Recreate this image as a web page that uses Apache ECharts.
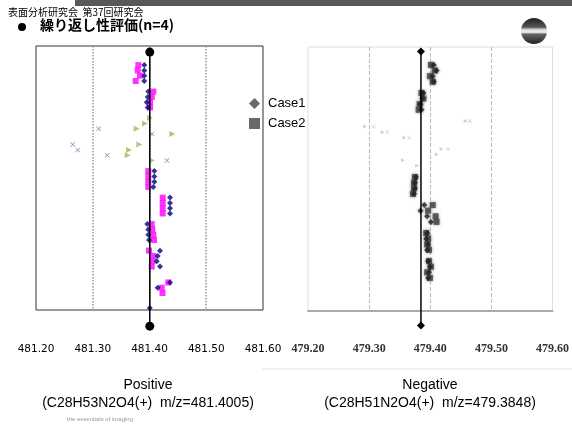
<!DOCTYPE html>
<html>
<head>
<meta charset="utf-8">
<script src="https://cdn.jsdelivr.net/npm/echarts@6/dist/echarts.min.js"></script>
<style>
  html, body { margin: 0; padding: 0; background: #fff; }
  #chart { width: 572px; height: 425px; }
</style>
</head>
<body>
<div id="chart"></div>
<script>
// ---- Positive (m/z 481.4005) ----
var posTicks = [481.20, 481.30, 481.40, 481.50, 481.60];
var posTheory = 481.4005;
var posLineRows = [-2.45, 49.25];

var posCase1Mz  = [481.3908, 481.3908, 481.3908, 481.3908,
                   481.3979, 481.3968, 481.3951, 481.3968,
                   481.4085, 481.4085, 481.4085, 481.4067,
                   481.4361, 481.4361, 481.4361, 481.4361,
                   481.3961, 481.3979, 481.3979, 481.3991,
                   481.4185, 481.4144, 481.4127, 481.4185,
                   481.4361, 481.4144, 481.4005];
var posCase1Row = [0, 1, 2, 3, 5, 6, 7, 8, 20, 21, 22, 23, 25, 26, 27, 28,
                   30, 31, 32, 33, 35, 36, 37, 38, 41, 42, 45.8];

var posCase2Mz  = [481.3803, 481.3792, 481.3833, 481.3757,
                   481.4067, 481.4039, 481.4009, 481.4009,
                   481.3979, 481.3979, 481.3979, 481.3979,
                   481.4233, 481.4233, 481.4233, 481.4233,
                   481.4039, 481.4049, 481.4067, 481.4079,
                   481.3991, 481.4067, 481.4049, 481.4039,
                   481.4331, 481.4215, 481.4229];
var posCase2Row = [0, 1, 2, 3, 5, 6, 7, 8, 20, 21, 22, 23, 25, 26, 27, 28,
                   30, 31, 32, 33, 35, 36, 37, 38, 41, 42, 43];

var posCase3Mz  = [481.4009, 481.3921, 481.3774, 481.4402, 481.3820, 481.3639, 481.3616, 481.4044];
var posCase3Row = [10, 11, 12, 13, 15, 16, 17, 18];

var posCase4Mz  = [481.3105, 481.4044, 481.2647, 481.2735, 481.3256, 481.4308];
var posCase4Row = [12, 13, 15, 16, 17, 18];

// ---- Negative (m/z 479.3848) ----
var negTicks = [479.20, 479.30, 479.40, 479.50, 479.60];
var negTheory = 479.3848;
var negLineRows = [-2.4, 46.5];

var negCase1Mz  = [479.4057, 479.4103, 479.4041, 479.4057,
                   479.3888, 479.3872, 479.3842, 479.3857,
                   479.3765, 479.3749, 479.3749, 479.3734,
                   479.3903, 479.3842, 479.3949, 479.4011,
                   479.3949, 479.3934, 479.3965, 479.3949,
                   479.3965, 479.3995, 479.3980, 479.3965];
var negCase1Row = [0, 1, 2, 3, 5, 6, 7, 8, 20, 21, 22, 23, 25, 26, 27, 28,
                   30, 31, 32, 33, 35, 36, 37, 38];

var negCase2Mz  = [479.4011, 479.4072, 479.3995, 479.4041,
                   479.3857, 479.3888, 479.3826, 479.3811,
                   479.3749, 479.3734, 479.3734, 479.3718,
                   479.4041, 479.3965, 479.4088, 479.4103,
                   479.3934, 479.3965, 479.3949, 479.3980,
                   479.3980, 479.4011, 479.3949, 479.3995];
var negCase2Row = [0, 1, 2, 3, 5, 6, 7, 8, 20, 21, 22, 23, 25, 26, 27, 28,
                   30, 31, 32, 33, 35, 36, 37, 38];

var negCase3Mz  = [479.4580, 479.2934, 479.3222, 479.3580, 479.4185, 479.4108, 479.3554, 479.3785];
var negCase3Row = [10, 11, 12, 13, 15, 16, 17, 18];

var negCase4Mz  = [479.4646, 479.3072, 479.3298, 479.3657, 479.4288];
var negCase4Row = [10, 11, 12, 13, 15];

function zip(xs, ys) {
    var out = [];
    for (var i = 0; i < xs.length; i++) out.push([xs[i], ys[i]]);
    return out;
}

var crossPath = 'path://M0,1L1,0L5,4L9,0L10,1L6,5L10,9L9,10L5,6L1,10L0,9L4,5Z';
var sans = '"Liberation Sans", Arial, sans-serif';
var cjk = '"Noto Sans CJK JP", sans-serif';

var chart = echarts.init(document.getElementById('chart'));

var option = {
    animation: false,
    backgroundColor: '#fff',
    grid: [
        {left: 36, top: 46, width: 227, height: 264, show: true, borderColor: '#333', borderWidth: 1},
        {left: 308, top: 47, width: 259, height: 264, show: true, borderColor: '#ddd', borderWidth: 1}
    ],
    xAxis: [
        {
            gridIndex: 0, type: 'value',
            min: posTicks[0], max: posTicks[posTicks.length - 1], interval: 0.1,
            axisLine: {show: false, onZero: false}, axisTick: {show: false},
            axisLabel: {
                margin: 34, fontSize: 10.5, color: '#000', fontFamily: '"DejaVu Sans", sans-serif',
                formatter: function (v) { return v.toFixed(2); }
            },
            splitLine: {show: true, showMinLine: false, showMaxLine: false,
                lineStyle: {color: '#999', type: 'dotted', width: 1.5}}
        },
        {
            gridIndex: 1, type: 'value',
            min: negTicks[0], max: negTicks[negTicks.length - 1], interval: 0.1,
            axisLine: {show: true, onZero: false, lineStyle: {color: '#aaa', width: 2}}, axisTick: {show: false},
            axisLabel: {
                margin: 32, fontSize: 12, color: '#333', fontWeight: 'bold',
                fontFamily: '"Liberation Serif", serif',
                formatter: function (v) { return v.toFixed(2); }
            },
            splitLine: {show: true, showMinLine: false, showMaxLine: false,
                lineStyle: {color: '#bbb', type: 'dashed', width: 1}}
        }
    ],
    yAxis: [
        {gridIndex: 0, type: 'value', min: -3.6, max: 46.2, inverse: true, show: false},
        {gridIndex: 1, type: 'value', min: -3.2, max: 43.9, inverse: true, show: false}
    ],
    legend: {
        orient: 'vertical', left: 244, top: 92, itemGap: 7, itemWidth: 11, itemHeight: 11,
        textStyle: {fontSize: 13, color: '#000', fontFamily: sans, padding: [0, 0, 0, 3]},
        data: [
            {name: 'Case1', icon: 'diamond', itemStyle: {color: '#444'}},
            {name: 'Case2', icon: 'rect', itemStyle: {color: '#444'}}
        ]
    },
    graphic: [
        {type: 'rect', left: 75, top: 0, shape: {width: 497, height: 6}, style: {fill: '#595959'}},
        {type: 'text', left: 8, top: 7, style: {text: '表面分析研究会  第37回研究会', font: '10px ' + cjk, fill: '#000'}},
        {type: 'circle', shape: {cx: 22, cy: 27, r: 4}, style: {fill: '#000'}},
        {type: 'text', left: 40, top: 18, style: {text: '繰り返し性評価(n=4)', font: 'bold 14px ' + cjk, fill: '#000'}},
        {type: 'circle', shape: {cx: 534, cy: 31, r: 13},
            style: {fill: new echarts.graphic.LinearGradient(0, 0, 0, 1, [
                {offset: 0, color: '#1e1e1e'}, {offset: 0.35, color: '#555'},
                {offset: 0.45, color: '#ddd'}, {offset: 0.55, color: '#eee'},
                {offset: 0.62, color: '#666'}, {offset: 1, color: '#222'}
            ])}},
        {type: 'line', shape: {x1: 262, y1: 369, x2: 572, y2: 369}, style: {stroke: '#e6e6e6', lineWidth: 1}},
        {type: 'text', style: {text: 'Positive', x: 148, y: 385, align: 'center', verticalAlign: 'middle', font: '14px ' + sans, fill: '#000'}},
        {type: 'text', style: {text: '(C28H53N2O4(+)  m/z=481.4005)', x: 148, y: 403, align: 'center', verticalAlign: 'middle', font: '14px ' + sans, fill: '#000'}},
        {type: 'text', style: {text: 'the essentials of imaging', x: 100, y: 419, align: 'center', verticalAlign: 'middle', font: '6px ' + sans, fill: '#999'}},
        {type: 'text', style: {text: 'Negative', x: 430, y: 385, align: 'center', verticalAlign: 'middle', font: '14px ' + sans, fill: '#000'}},
        {type: 'text', style: {text: '(C28H51N2O4(+)  m/z=479.3848)', x: 430, y: 403, align: 'center', verticalAlign: 'middle', font: '14px ' + sans, fill: '#000'}}
    ],
    series: [
        {
            name: 'Case3', type: 'scatter', xAxisIndex: 0, yAxisIndex: 0,
            symbol: 'triangle', symbolRotate: -90, symbolSize: 6,
            itemStyle: {color: '#9bbb59'}, data: zip(posCase3Mz, posCase3Row)
        },
        {
            name: 'Case4', type: 'scatter', xAxisIndex: 0, yAxisIndex: 0,
            symbol: crossPath, symbolSize: 5,
            itemStyle: {color: '#8064a2'}, data: zip(posCase4Mz, posCase4Row)
        },
        {
            name: 'Case2', type: 'scatter', xAxisIndex: 0, yAxisIndex: 0,
            symbol: 'rect', symbolSize: [6, 6],
            itemStyle: {color: '#ff00ff'}, data: zip(posCase2Mz, posCase2Row)
        },
        {
            name: 'Case1', type: 'scatter', xAxisIndex: 0, yAxisIndex: 0,
            symbol: 'diamond', symbolSize: 6,
            itemStyle: {color: '#000080'}, data: zip(posCase1Mz, posCase1Row)
        },
        {
            name: 'posTheory', type: 'line', xAxisIndex: 0, yAxisIndex: 0, clip: false, z: 5,
            symbol: 'circle', symbolSize: 9, showAllSymbol: true,
            lineStyle: {color: '#000', width: 1.5}, itemStyle: {color: '#000'},
            data: [[posTheory, posLineRows[0]], [posTheory, posLineRows[1]]]
        },
        {
            name: 'negCase3', type: 'scatter', xAxisIndex: 1, yAxisIndex: 1,
            symbol: 'triangle', symbolRotate: -90, symbolSize: 4,
            itemStyle: {color: '#c4c4c4'}, data: zip(negCase3Mz, negCase3Row)
        },
        {
            name: 'negCase4', type: 'scatter', xAxisIndex: 1, yAxisIndex: 1,
            symbol: crossPath, symbolSize: 4,
            itemStyle: {color: '#bdbdbd'}, data: zip(negCase4Mz, negCase4Row)
        },
        {
            name: 'negCase2', type: 'scatter', xAxisIndex: 1, yAxisIndex: 1,
            symbol: 'rect', symbolSize: [6, 6],
            itemStyle: {color: '#444', shadowBlur: 3, shadowColor: 'rgba(0,0,0,0.5)'},
            data: zip(negCase2Mz, negCase2Row)
        },
        {
            name: 'negCase1', type: 'scatter', xAxisIndex: 1, yAxisIndex: 1,
            symbol: 'diamond', symbolSize: 6,
            itemStyle: {color: '#222', shadowBlur: 3, shadowColor: 'rgba(0,0,0,0.5)'},
            data: zip(negCase1Mz, negCase1Row)
        },
        {
            name: 'negTheory', type: 'line', xAxisIndex: 1, yAxisIndex: 1, clip: false, z: 5,
            symbol: 'diamond', symbolSize: 8, showAllSymbol: true,
            lineStyle: {color: '#000', width: 1.5}, itemStyle: {color: '#000'},
            data: [[negTheory, negLineRows[0]], [negTheory, negLineRows[1]]]
        }
    ]
};

chart.setOption(option);
</script>
</body>
</html>
